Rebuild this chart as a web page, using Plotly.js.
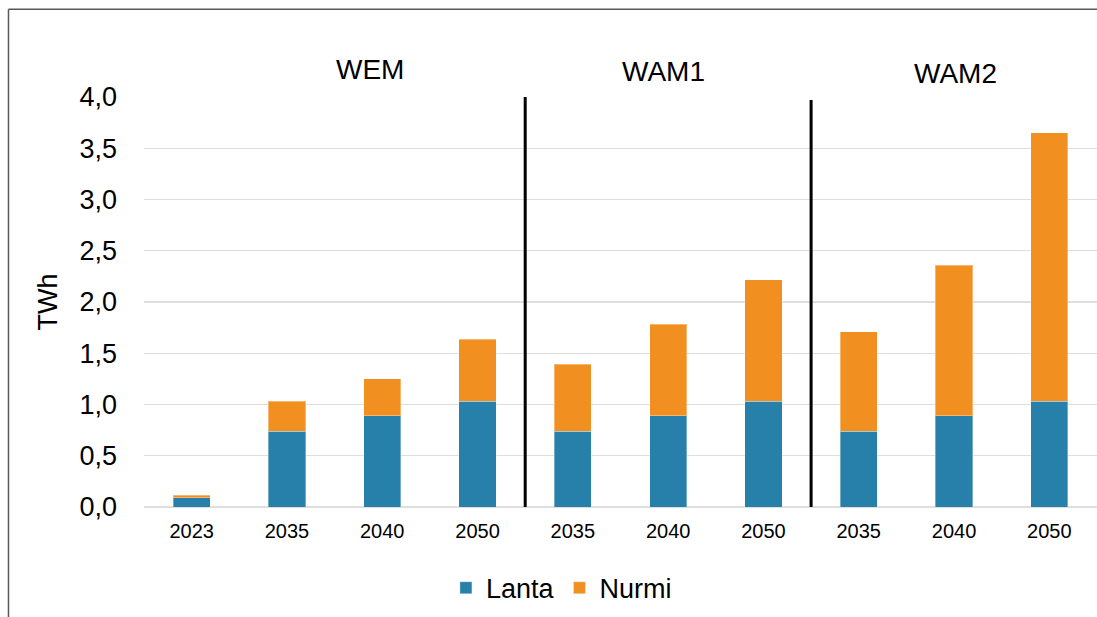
<!DOCTYPE html>
<html>
<head>
<meta charset="utf-8">
<script src="https://cdn.plot.ly/plotly-3.0.1.min.js"></script>
<style>
  html, body { margin: 0; padding: 0; background: #ffffff; }
  #chart { width: 1097px; height: 617px; }
</style>
</head>
<body>
<div id="chart"></div>
<script>
// ---- data ----
const scenarios = ["WEM", "WEM", "WEM", "WEM", "WAM1", "WAM1", "WAM1", "WAM2", "WAM2", "WAM2"];
const years = ["2023", "2035", "2040", "2050", "2035", "2040", "2050", "2035", "2040", "2050"];
const lanta = [0.09, 0.74, 0.89, 1.03, 0.74, 0.89, 1.03, 0.74, 0.89, 1.03];
const nurmi = [0.025, 0.29, 0.36, 0.605, 0.655, 0.895, 1.185, 0.97, 1.47, 2.62];
const groupLabels = ["WEM", "WAM1", "WAM2"];
const yTickVals = [0, 0.5, 1, 1.5, 2, 2.5, 3, 3.5, 4];
const yTickText = ["0,0", "0,5", "1,0", "1,5", "2,0", "2,5", "3,0", "3,5", "4,0"];

const categories = scenarios.map((s, i) => s + " " + years[i]);

const FONT = "Liberation Sans, Arial, sans-serif";
const BLUE = "#2780a9";
const ORANGE = "#f18f21";

const traces = [
  {
    type: "bar", name: "Lanta", x: categories, y: lanta,
    marker: { color: BLUE, line: { color: "rgba(255,255,255,0.35)", width: 1 } },
    hoverinfo: "skip"
  },
  {
    type: "bar", name: "Nurmi", x: categories, y: nurmi,
    marker: { color: ORANGE, line: { color: "rgba(255,255,255,0.35)", width: 1 } },
    hoverinfo: "skip"
  }
];

// positions for group labels (category index, paper y)
const groupPos = [[1.87, 1.068], [4.95, 1.063], [8.02, 1.058]];

const layout = {
  width: 1097, height: 617,
  margin: { l: 144, r: 0, t: 97, b: 110 },
  paper_bgcolor: "#ffffff", plot_bgcolor: "#ffffff",
  barmode: "stack",
  bargap: 0.61,
  font: { family: FONT, color: "#000000" },
  showlegend: true,
  legend: {
    orientation: "h", x: 0.438, xanchor: "center", y: -0.198, yanchor: "middle",
    font: { family: FONT, size: 27, color: "#000000" },
    traceorder: "normal", itemwidth: 30
  },
  xaxis: {
    type: "category",
    tickmode: "array", tickvals: categories, ticktext: years,
    tickfont: { family: FONT, size: 20, color: "#000000" },
    ticks: "", showgrid: false, showline: false, zeroline: false,
    ticklabelstandoff: 10,
    range: [-0.5, 9.5], fixedrange: true
  },
  yaxis: {
    range: [0, 4],
    tickmode: "array", tickvals: yTickVals, ticktext: yTickText,
    tickfont: { family: FONT, size: 27, color: "#000000" },
    ticks: "", showgrid: true, gridcolor: "#dedede", gridwidth: 1.3,
    zeroline: true, zerolinecolor: "#dedede", zerolinewidth: 1.3,
    showline: false, ticklabelstandoff: 26,
    title: { text: "TWh", font: { family: FONT, size: 27, color: "#000000" }, standoff: 14 },
    fixedrange: true
  },
  shapes: [
    { type: "line", xref: "x", yref: "y", x0: 3.5, x1: 3.5, y0: 0, y1: 4.0,
      line: { color: "#000000", width: 3 } },
    { type: "line", xref: "x", yref: "y", x0: 6.5, x1: 6.5, y0: -0.03, y1: 3.97,
      line: { color: "#000000", width: 3 } },
    { type: "line", xref: "paper", yref: "paper", x0: -0.1422, x1: -0.1422, y0: -0.3, y1: 1.2139,
      line: { color: "#595959", width: 1.5 } },
    { type: "line", xref: "paper", yref: "paper", x0: -0.1422, x1: 1.0, y0: 1.2139, y1: 1.2139,
      line: { color: "#595959", width: 1.5 } }
  ],
  annotations: groupLabels.map((g, i) => ({
    text: g, xref: "x", yref: "paper", x: groupPos[i][0], y: groupPos[i][1],
    showarrow: false, xanchor: "center", yanchor: "middle",
    font: { family: FONT, size: 28, color: "#000000" }
  }))
};

Plotly.newPlot("chart", traces, layout, { displayModeBar: false, staticPlot: true });
</script>
</body>
</html>
